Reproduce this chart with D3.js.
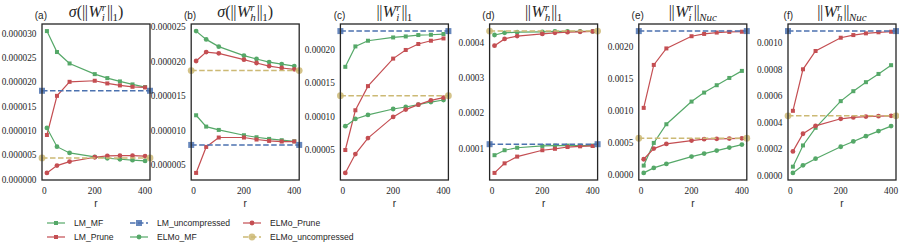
<!DOCTYPE html>
<html lang="en">
<head>
<meta charset="utf-8">
<script src="https://cdn.jsdelivr.net/npm/d3@7"></script>
<style>
body { margin: 0; background: #fff; }
text { fill: #262626; }
.tk { font: 9.3px "Liberation Serif", serif; }
.ttl { font: 16px "Liberation Serif", serif; }
.bar { font-style: normal; letter-spacing: -0.5px; }
.plbl { font: 10px "Liberation Sans", sans-serif; }
.xlbl { font: 10px "Liberation Sans", sans-serif; }
.leg { font: 8.6px "Liberation Sans", sans-serif; }
</style>
</head>
<body>
<svg id="chart" width="899" height="244"></svg>
<script>

var r = [10, 50, 100, 200, 250, 300, 350, 400];
var xTicks = [0, 200, 400];

// (a) sigma(||W_i^r||_1)
var a_LM_MF = [30.5e-6, 26.2e-6, 23.85e-6, 21.66e-6, 20.84e-6, 20.16e-6, 19.55e-6, 19.0e-6];
var a_LM_Prune = [9.16e-6, 17.2e-6, 20.08e-6, 20.3e-6, 19.75e-6, 19.34e-6, 19.06e-6, 18.93e-6];
var a_ELMo_MF = [10.6e-6, 6.76e-6, 5.47e-6, 4.65e-6, 4.38e-6, 4.18e-6, 3.98e-6, 3.83e-6];
var a_ELMo_Prune = [1.37e-6, 2.87e-6, 3.69e-6, 4.59e-6, 4.86e-6, 4.92e-6, 4.92e-6, 4.8e-6];
var a_LM_unc = 18.24e-6, a_ELMo_unc = 4.45e-6;
var a_ticks = [0, 5e-6, 10e-6, 15e-6, 20e-6, 25e-6, 30e-6];

// (b) sigma(||W_h^r||_1)
var b_LM_MF = [12.24e-6, 10.6e-6, 10.12e-6, 9.35e-6, 9.06e-6, 8.82e-6, 8.63e-6, 8.48e-6];
var b_LM_Prune = [3.9e-6, 7.66e-6, 9.02e-6, 9.02e-6, 8.73e-6, 8.53e-6, 8.44e-6, 8.44e-6];
var b_ELMo_MF = [24.42e-6, 23.22e-6, 22.17e-6, 20.87e-6, 20.38e-6, 19.94e-6, 19.65e-6, 19.36e-6];
var b_ELMo_Prune = [20.09e-6, 21.39e-6, 21.2e-6, 20.29e-6, 19.8e-6, 19.36e-6, 19.08e-6, 18.89e-6];
var b_LM_unc = 7.95e-6, b_ELMo_unc = 18.7e-6;
var b_ticks = [5e-6, 10e-6, 15e-6, 20e-6, 25e-6];

// (c) ||W_i^r||_1
var c_LM_MF = [17.48e-5, 20.53e-5, 21.38e-5, 21.87e-5, 22.02e-5, 22.23e-5, 22.27e-5, 22.38e-5];
var c_LM_Prune = [5.05e-5, 10.99e-5, 14.6e-5, 18.71e-5, 20.0e-5, 20.89e-5, 21.38e-5, 21.72e-5];
var c_ELMo_MF = [8.61e-5, 9.69e-5, 10.29e-5, 11.18e-5, 11.48e-5, 11.83e-5, 12.22e-5, 12.52e-5];
var c_ELMo_Prune = [1.63e-5, 4.45e-5, 6.83e-5, 10.0e-5, 11.09e-5, 11.83e-5, 12.47e-5, 12.87e-5];
var c_LM_unc = 22.82e-5, c_ELMo_unc = 13.17e-5;
var c_ticks = [5e-5, 10e-5, 15e-5, 20e-5];

// (d) ||W_h^r||_1
var d_LM_MF = [0.82e-4, 0.96e-4, 1.03e-4, 1.08e-4, 1.09e-4, 1.09e-4, 1.09e-4, 1.09e-4];
var d_LM_Prune = [0.32e-4, 0.59e-4, 0.78e-4, 0.96e-4, 1.0e-4, 1.05e-4, 1.07e-4, 1.08e-4];
var d_ELMo_MF = [4.21e-4, 4.27e-4, 4.29e-4, 4.30e-4, 4.31e-4, 4.31e-4, 4.31e-4, 4.31e-4];
var d_ELMo_Prune = [3.91e-4, 4.10e-4, 4.18e-4, 4.24e-4, 4.27e-4, 4.29e-4, 4.30e-4, 4.31e-4];
var d_LM_unc = 1.13e-4, d_ELMo_unc = 4.32e-4;
var d_ticks = [1e-4, 2e-4, 3e-4, 4e-4];

// (e) ||W_i^r||_Nuc
var e_LM_MF = [1.45e-4, 4.98e-4, 7.89e-4, 11.42e-4, 12.82e-4, 13.97e-4, 15.1e-4, 16.2e-4];
var e_LM_Prune = [10.44e-4, 17.13e-4, 19.7e-4, 21.6e-4, 21.96e-4, 22.17e-4, 22.27e-4, 22.3e-4];
var e_ELMo_MF = [0.31e-4, 1.09e-4, 1.71e-4, 2.85e-4, 3.32e-4, 3.79e-4, 4.25e-4, 4.72e-4];
var e_ELMo_Prune = [2.44e-4, 4.1e-4, 4.83e-4, 5.34e-4, 5.56e-4, 5.62e-4, 5.66e-4, 5.7e-4];
var e_LM_unc = 22.4e-4, e_ELMo_unc = 5.71e-4;
var e_ticks = [0, 5e-4, 10e-4, 15e-4, 20e-4];

// (f) ||W_h^r||_Nuc
var f_LM_MF = [0.7e-4, 2.3e-4, 3.63e-4, 5.64e-4, 6.39e-4, 7.07e-4, 7.69e-4, 8.35e-4];
var f_LM_Prune = [4.91e-4, 8.04e-4, 9.42e-4, 10.42e-4, 10.62e-4, 10.75e-4, 10.83e-4, 10.87e-4];
var f_ELMo_MF = [0.23e-4, 0.8e-4, 1.3e-4, 2.2e-4, 2.6e-4, 3.0e-4, 3.38e-4, 3.76e-4];
var f_ELMo_Prune = [1.85e-4, 3.18e-4, 3.78e-4, 4.31e-4, 4.41e-4, 4.48e-4, 4.51e-4, 4.53e-4];
var f_LM_unc = 10.92e-4, f_ELMo_unc = 4.53e-4;
var f_ticks = [0, 2e-4, 4e-4, 6e-4, 8e-4, 10e-4];

var panels = [
  {lbl: "(a)", sigma: true, w: "i", norm: "1", fmt: ".6f", ticks: a_ticks,
   lines: [a_LM_MF, a_LM_Prune, a_ELMo_MF, a_ELMo_Prune], unc: [a_LM_unc, a_ELMo_unc]},
  {lbl: "(b)", sigma: true, w: "h", norm: "1", fmt: ".6f", ticks: b_ticks,
   lines: [b_LM_MF, b_LM_Prune, b_ELMo_MF, b_ELMo_Prune], unc: [b_LM_unc, b_ELMo_unc]},
  {lbl: "(c)", sigma: false, w: "i", norm: "1", fmt: ".5f", ticks: c_ticks,
   lines: [c_LM_MF, c_LM_Prune, c_ELMo_MF, c_ELMo_Prune], unc: [c_LM_unc, c_ELMo_unc]},
  {lbl: "(d)", sigma: false, w: "h", norm: "1", fmt: ".4f", ticks: d_ticks,
   lines: [d_LM_MF, d_LM_Prune, d_ELMo_MF, d_ELMo_Prune], unc: [d_LM_unc, d_ELMo_unc]},
  {lbl: "(e)", sigma: false, w: "i", norm: "Nuc", fmt: ".4f", ticks: e_ticks,
   lines: [e_LM_MF, e_LM_Prune, e_ELMo_MF, e_ELMo_Prune], unc: [e_LM_unc, e_ELMo_unc]},
  {lbl: "(f)", sigma: false, w: "h", norm: "Nuc", fmt: ".4f", ticks: f_ticks,
   lines: [f_LM_MF, f_LM_Prune, f_ELMo_MF, f_ELMo_Prune], unc: [f_LM_unc, f_ELMo_unc]}
];

var green = "#55A868", red = "#C44E52", blue = "#4C72B0", gold = "#CCB974";
// LM_MF, LM_Prune, ELMo_MF, ELMo_Prune
var lineStyle = [
  {c: green, m: "square"}, {c: red, m: "square"},
  {c: green, m: "circle"}, {c: red, m: "circle"}
];
var uncStyle = [{c: blue, m: "square"}, {c: gold, m: "circle"}];

var svg = d3.select("#chart");
var W = 108, axTop = 24, axBottom = 180, x0 = 42, step = 149.2;

function marker(g, type, cx, cy, s, col, op) {
  if (type == "square") {
    g.append("rect").attr("x", cx - s / 2).attr("y", cy - s / 2)
      .attr("width", s).attr("height", s).attr("fill", col).attr("fill-opacity", op || 1);
  } else {
    g.append("circle").attr("cx", cx).attr("cy", cy).attr("r", s / 2 + 0.4)
      .attr("fill", col).attr("fill-opacity", op || 1);
  }
}

// Titel als Formel mit tspans, Norm-Striche als "||"
function mathTitle(g, cx, p) {
  var t = g.append("text").attr("class", "ttl").attr("x", cx).attr("y", 17)
    .attr("text-anchor", "middle");
  if (p.sigma) {
    t.append("tspan").text("σ").style("font-style", "italic");
    t.append("tspan").text("(");
  }
  t.append("tspan").attr("class", "bar").text("||");
  t.append("tspan").text("W").style("font-style", "italic").attr("dx", 1);
  var sub = t.append("tspan").text(p.w).style("font-style", "italic")
    .style("font-size", "11px").attr("dy", 4);
  var sw = sub.node().getComputedTextLength();
  var sup = t.append("tspan").text("r").style("font-style", "italic")
    .style("font-size", "11px").attr("dx", -sw).attr("dy", -10);
  var rw = sup.node().getComputedTextLength();
  t.append("tspan").attr("class", "bar").text("||")
    .attr("dx", Math.max(sw - rw, 0) + 1).attr("dy", 6);
  t.append("tspan").text(p.norm).style("font-style", p.norm == "1" ? "normal" : "italic")
    .style("font-size", "11px").attr("dy", 4);
  if (p.sigma) t.append("tspan").text(")").attr("dy", -4);
}

panels.forEach(function (p, i) {
  var left = x0 + i * step;
  var g = svg.append("g");
  var x = d3.scaleLinear().domain([-9.5, 419.5]).range([left, left + W]);

  var all = [].concat.apply([], p.lines).concat(p.unc);
  var lo = d3.min(all), hi = d3.max(all), pad = (hi - lo) * 0.05;
  var y = d3.scaleLinear().domain([lo - pad, hi + pad]).range([axBottom, axTop]);

  // y Beschriftung
  g.selectAll(".yt").data(p.ticks).enter().append("text").attr("class", "tk")
    .attr("x", left - 5.5).attr("y", function (d) { return y(d); }).attr("dy", "0.33em")
    .attr("text-anchor", "end").text(function (d) { return d3.format(p.fmt)(d); });
  g.selectAll(".xt").data(xTicks).enter().append("text").attr("class", "tk")
    .attr("x", function (d) { return x(d); }).attr("y", 194)
    .attr("text-anchor", "middle").text(function (d) { return d; });
  g.append("text").attr("class", "xlbl").attr("x", left + W / 2).attr("y", 206.5)
    .attr("text-anchor", "middle").text("r");

  var line = d3.line().x(function (d, j) { return x(r[j]); }).y(function (d) { return y(d); });

  // Reihenfolge wie Legende: LM_MF, LM_Prune, LM_unc, ELMo_MF, ELMo_Prune, ELMo_unc
  var order = [["l", 0], ["l", 1], ["u", 0], ["l", 2], ["l", 3], ["u", 1]];
  order.forEach(function (o) {
    if (o[0] == "l") {
      var st = lineStyle[o[1]], vals = p.lines[o[1]];
      g.append("path").attr("d", line(vals)).attr("fill", "none")
        .attr("stroke", st.c).attr("stroke-width", 1.2);
      vals.forEach(function (v, j) { marker(g, st.m, x(r[j]), y(v), 4, st.c); });
    } else {
      var us = uncStyle[o[1]], yy = y(p.unc[o[1]]);
      g.append("line").attr("x1", left).attr("x2", left + W).attr("y1", yy).attr("y2", yy)
        .attr("stroke", us.c).attr("stroke-width", 1.5).attr("stroke-dasharray", "5.5,2.5");
      marker(g, us.m, left, yy, 6, us.c, 0.85);
      marker(g, us.m, left + W, yy, 6, us.c, 0.85);
    }
  });

  g.append("rect").attr("x", left).attr("y", axTop).attr("width", W).attr("height", axBottom - axTop)
    .attr("fill", "none").attr("stroke", "#262626").attr("stroke-width", 1.3);

  g.append("text").attr("class", "plbl").attr("x", left + 5).attr("y", 19)
    .attr("text-anchor", "end").text(p.lbl);
  mathTitle(g, left + W / 2, p);
});

// Legende
var legNames = ["LM_MF", "LM_Prune", "LM_uncompressed", "ELMo_MF", "ELMo_Prune", "ELMo_uncompressed"];
var legStyle = [lineStyle[0], lineStyle[1], uncStyle[0], lineStyle[2], lineStyle[3], uncStyle[1]];
var legCols = [47, 130, 243, 337], legRows = [223, 237];
var lg = svg.append("g");
legNames.forEach(function (n, k) {
  var cx = legCols[Math.floor(k / 2)], cy = legRows[k % 2];
  var st = legStyle[k], unc = (k == 2 || k == 5);
  lg.append("line").attr("x1", cx).attr("x2", cx + 18).attr("y1", cy).attr("y2", cy)
    .attr("stroke", st.c).attr("stroke-width", unc ? 1.5 : 1.2)
    .attr("stroke-dasharray", unc ? "5.5,2.5" : null);
  marker(lg, st.m, cx + 9, cy, unc ? 6 : 4, st.c, unc ? 0.85 : 1);
  lg.append("text").attr("class", "leg").attr("x", cx + 27).attr("y", cy).attr("dy", "0.35em")
    .text(n);
});

</script>
</body>
</html>
